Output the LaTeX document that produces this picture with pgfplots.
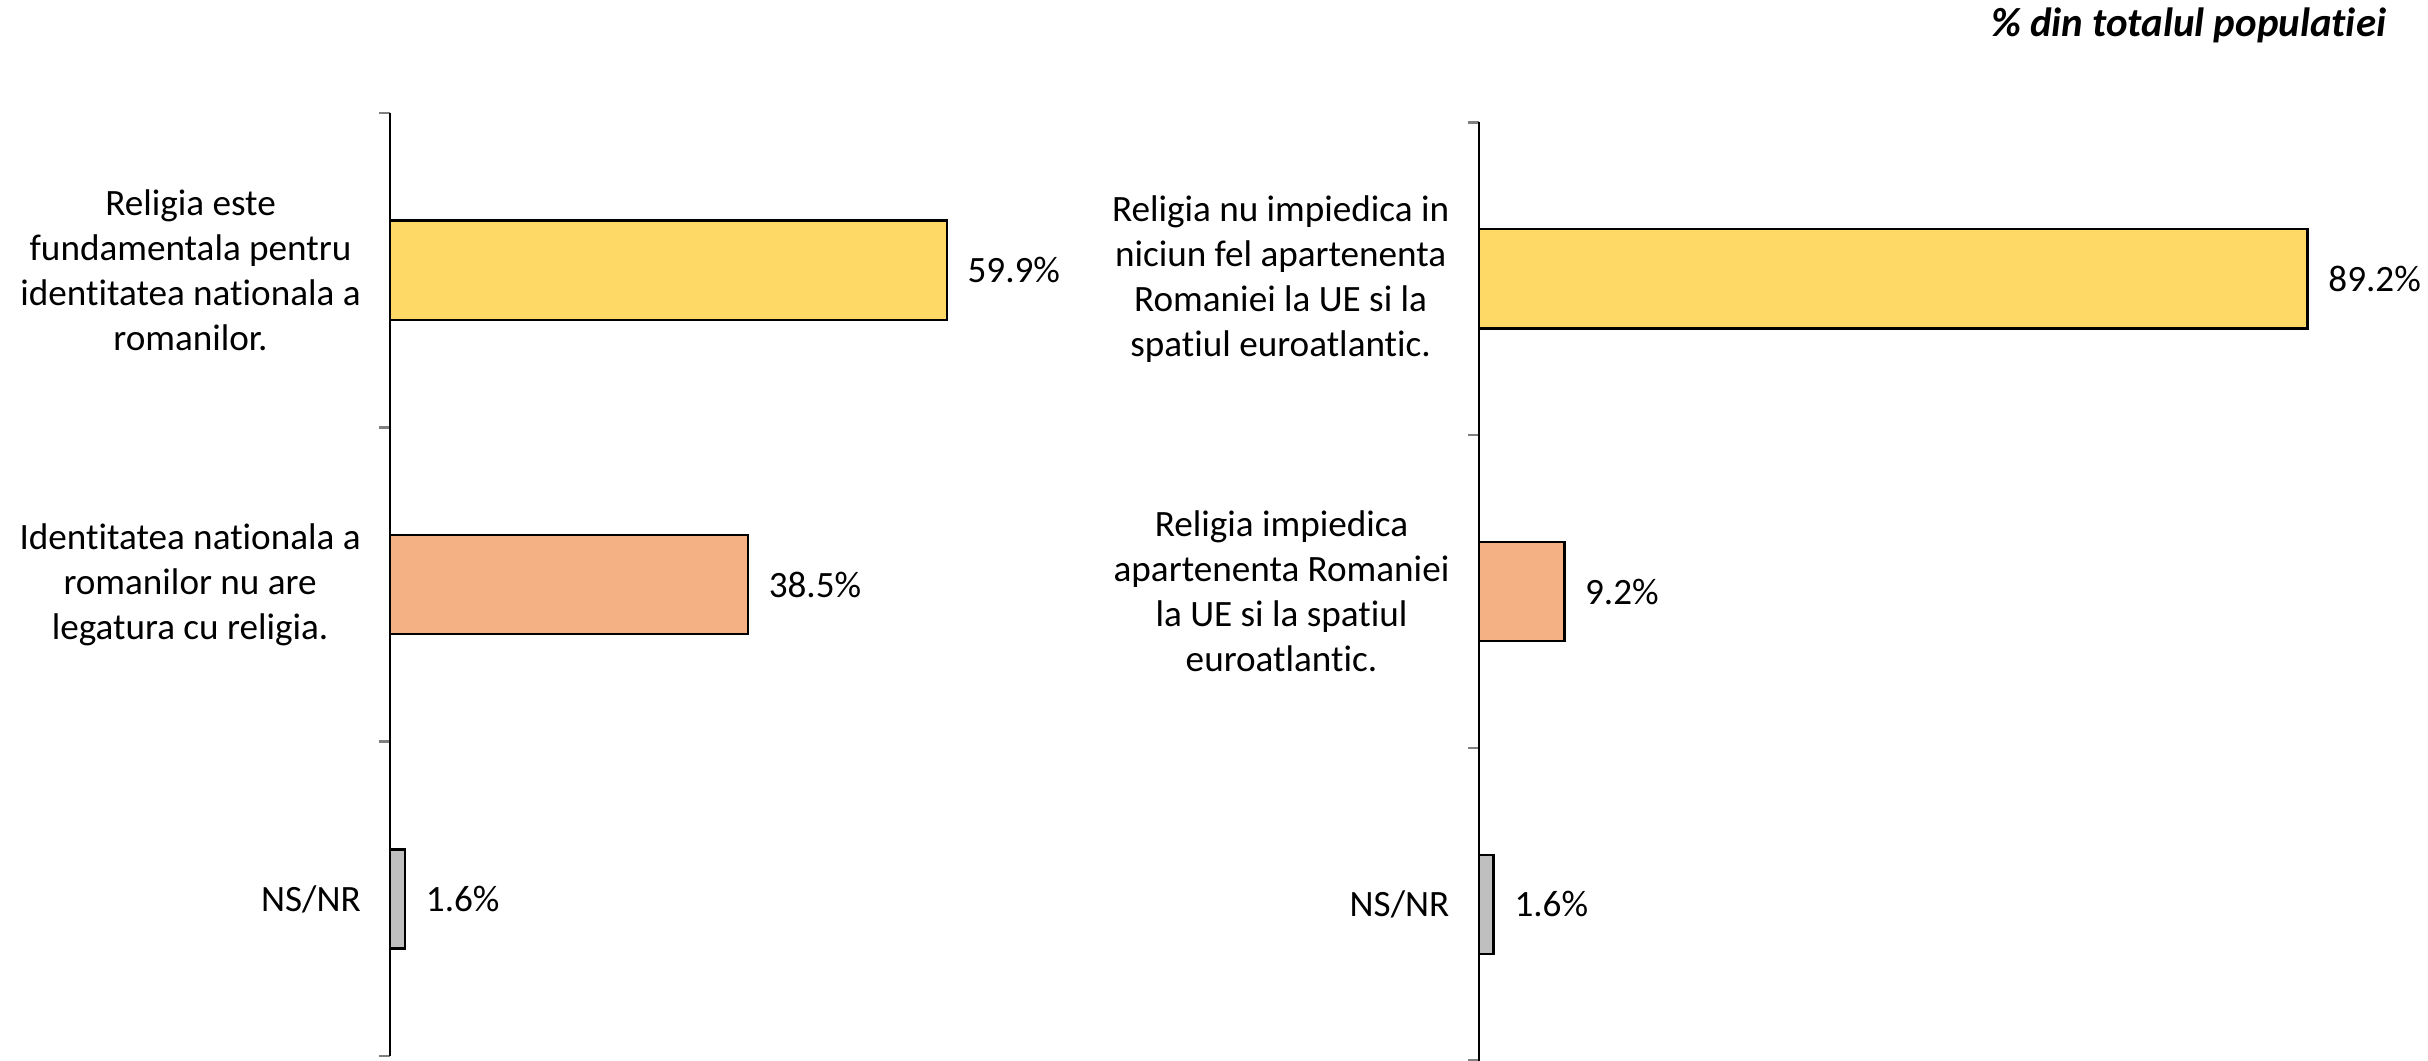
\documentclass[border=0pt]{standalone}
\usepackage{pgfplots}
\pgfplotsset{compat=1.18}
\usepackage{fontspec}
\setmainfont[Ligatures={NoCommon,NoRare,NoContextual}]{Carlito}
\definecolor{cyel}{HTML}{FFD966}
\definecolor{corg}{HTML}{F4B183}
\definecolor{cgry}{HTML}{BFBFBF}
\pgfplotsset{
  mybars/.style={
    scale only axis, width=300pt,
    xmin=0, xmax=100, ymin=-0.5, ymax=2.5, y dir=reverse,
    axis x line=none, axis y line*=left,
    y axis line style={line width=0.8pt},
    ytick={0,1,2}, major tick length=0pt,
    minor ytick={-0.5,0.5,1.5,2.5}, minor tick length=3.5pt,
    tick align=outside, minor tick style={line width=0.8pt},
    yticklabel style={align=center, font=\fontsize{12}{14.5}\selectfont, xshift=-6pt},
    clip=false,
    /pgf/number format/assume math mode=true,
    nodes near coords={\pgfmathprintnumber[fixed,fixed zerofill,precision=1]{\pgfplotspointmeta}\%},
    point meta=x,
    every node near coord/.append style={font=\fontsize{12}{14.5}\selectfont, anchor=west, xshift=3pt},
  },
  onebar/.style={xbar, bar width=32pt, bar shift=0pt, draw=black, line width=0.8pt, fill=#1},
}
\begin{document}
\begin{tikzpicture}[font=\fontsize{12}{14.5}\selectfont]
\path[use as bounding box] (0,0) rectangle (784pt,342.5pt);
\begin{axis}[mybars, at={(126pt,1.5pt)}, anchor=south west, height=304.5pt,
  yticklabels={{Religia este\\fundamentala pentru\\identitatea nationala a\\romanilor.},{Identitatea nationala a\\romanilor nu are\\legatura cu religia.},{NS/NR}}]
\addplot[onebar=cyel] coordinates {(59.9,0)};
\addplot[onebar=corg] coordinates {(38.5,1)};
\addplot[onebar=cgry] coordinates {(1.6,2)};
\end{axis}
\begin{axis}[mybars, at={(477.5pt,0pt)}, anchor=south west, height=303pt,
  yticklabels={{Religia nu impiedica in\\niciun fel apartenenta\\Romaniei la UE si la\\spatiul euroatlantic.},{Religia impiedica\\apartenenta Romaniei\\la UE si la spatiul\\euroatlantic.},{NS/NR}}]
\addplot[onebar=cyel] coordinates {(89.2,0)};
\addplot[onebar=corg] coordinates {(9.2,1)};
\addplot[onebar=cgry] coordinates {(1.6,2)};
\end{axis}
\node[anchor=east, font=\fontsize{13.2}{15}\selectfont\bfseries\itshape] at (774pt,334.4pt) {\% din totalul populatiei};
\end{tikzpicture}
\end{document}
